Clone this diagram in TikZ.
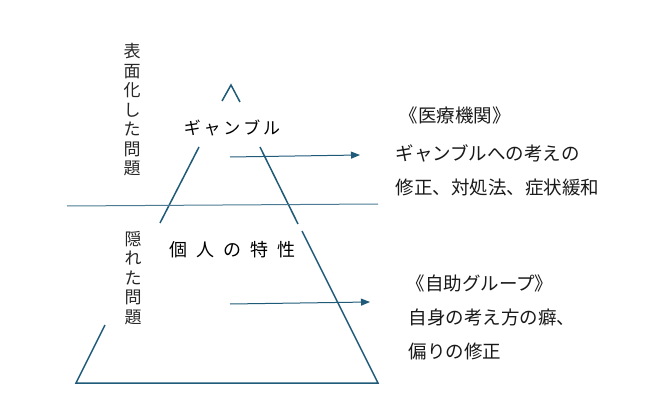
\documentclass[tikz,border=0pt]{standalone}
\usepackage{fontspec}
\setmainfont{Noto Sans CJK JP}
\usetikzlibrary{positioning,arrows.meta}
\definecolor{navy}{HTML}{1F5A78}
\begin{document}
\begin{tikzpicture}[x=1pt,y=-1pt,
	line/.style={draw=navy, line width=1.5pt},
	arr/.style={draw=navy, line width=1pt, -{Triangle[length=9pt,width=7pt]}},
	vtext/.style={align=center, font=\fontsize{17}{19.5}\selectfont, text=black!85},
	label/.style={font=\fontsize{18.5}{20}\selectfont, text=black!90, anchor=west}]
	\useasboundingbox (0,0) rectangle (649,404);
	% pyramid
	\draw[line] (222,101) -- (231,85) -- (240,102);
	\draw[line] (199,147) -- (160,223);
	\draw[line] (105,325) -- (76,383) -- (378,383) -- (302,231);
	\draw[line] (298,224) -- (260,147);
	\draw[draw=navy!80, line width=1pt] (67,206) -- (378,204);
	% texts
	\node[vtext] (upper) at (132,110) {表\\面\\化\\し\\た\\問\\題};
	\node[vtext] (lower) at (133,278) {隠\\れ\\た\\問\\題};
	\node[font=\fontsize{17}{18}\selectfont] (gamble) at (232,128) {ギ\,ャ\,ン\,ブ\,ル};
	\node[font=\fontsize{18}{18}\selectfont] (trait) at (232,250) {個\enspace 人\enspace の\enspace 特\enspace 性};
	\node[label, anchor=center] (med) at (455,115) {《医療機関》};
	\node[label] (med1) at (392,153) {ギャンブルへの考えの};
	\node[label] (med2) at (392,187) {修正、対処法、症状緩和};
	\node[label, anchor=center] (self) at (480,283) {《自助グループ》};
	\node[label] (self1) at (405,317) {自身の考え方の癖、};
	\node[label] (self2) at (405,351) {偏りの修正};
	% arrows
	\coordinate (a1) at (230,157);
	\coordinate (b1) at (360,155);
	\coordinate (a2) at (230,304);
	\coordinate (b2) at (370,302);
	\draw[arr] (a1) -- (b1);
	\draw[arr] (a2) -- (b2);
\end{tikzpicture}
\end{document}
